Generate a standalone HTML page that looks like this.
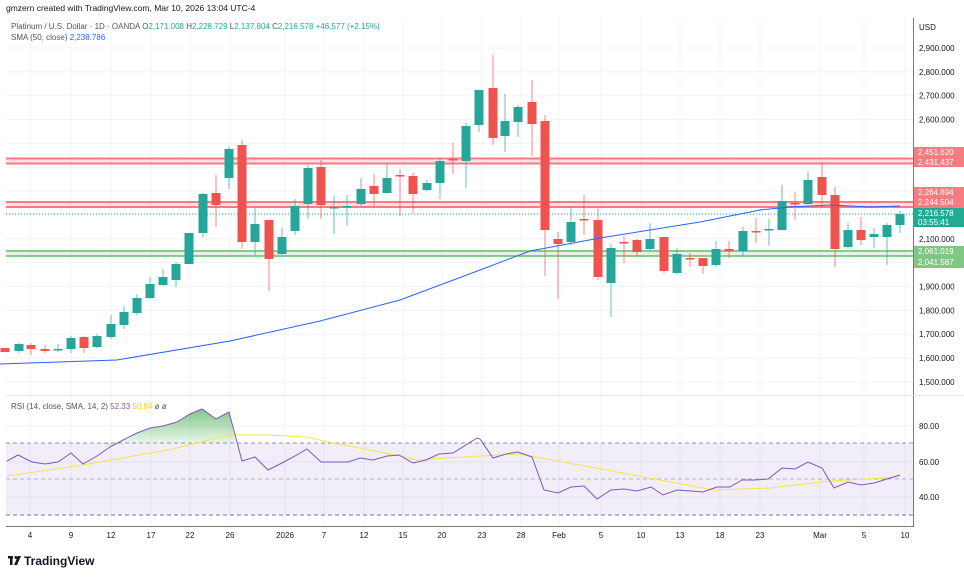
<!DOCTYPE html>
<html><head><meta charset="utf-8">
<style>
body{margin:0;background:#fff;font-family:"Liberation Sans",sans-serif;}
svg text{font-family:"Liberation Sans",sans-serif;}
</style></head><body>
<svg id="s" width="964" height="582" xmlns="http://www.w3.org/2000/svg">
<rect width="964" height="582" fill="#fff"/>
<g id="grid"></g>
<rect x="6" y="443" width="907" height="72" fill="#7e57c2" fill-opacity="0.1"/>
<line x1="6" x2="913" y1="443" y2="443" stroke="#9598a1" stroke-dasharray="4,3" stroke-width="1"/>
<line x1="6" x2="913" y1="479" y2="479" stroke="#9598a1" stroke-dasharray="4,3" stroke-width="1" stroke-opacity="0.7"/>
<line x1="6" x2="913" y1="515" y2="515" stroke="#787b86" stroke-dasharray="4,3" stroke-width="1"/>
<rect x="6" y="158" width="907" height="5" fill="#f23645" fill-opacity="0.15"/>
<line x1="6" x2="913" y1="158.5" y2="158.5" stroke="#f77c80" stroke-width="2"/>
<line x1="6" x2="913" y1="163.5" y2="163.5" stroke="#f77c80" stroke-width="2"/>
<rect x="6" y="202" width="907" height="5" fill="#f23645" fill-opacity="0.15"/>
<line x1="6" x2="913" y1="202" y2="202" stroke="#f77c80" stroke-width="2"/>
<line x1="6" x2="913" y1="207" y2="207" stroke="#f77c80" stroke-width="2"/>
<rect x="6" y="251" width="907" height="5" fill="#4caf50" fill-opacity="0.15"/>
<line x1="6" x2="913" y1="251" y2="251" stroke="#66bb6a" stroke-width="1.5"/>
<line x1="6" x2="913" y1="256" y2="256" stroke="#66bb6a" stroke-width="1.5"/>
<line x1="6" x2="913" y1="214" y2="214" stroke="#22ab94" stroke-dasharray="1,2" stroke-width="1"/>
<g id="candles"></g>
<polyline fill="none" stroke="#2962ff" stroke-width="1" points="0,364 117,360 230,341 320,321 400,300 480,270 530,251 600,238 700,222 760,210 790,207 830,205 870,207 900,206"/>
<g id="rsi"></g>
<line x1="913.5" x2="913.5" y1="18" y2="527" stroke="#787b86" stroke-width="1"/>
<line x1="6" x2="913" y1="526.5" y2="526.5" stroke="#787b86" stroke-width="1"/>
<line x1="6" x2="964" y1="395.5" y2="395.5" stroke="#e0e3eb" stroke-width="1"/>
<g id="ylab" font-size="8" fill="#131722"></g>
<g id="xlab" font-size="8" fill="#131722" text-anchor="middle"></g>
<text x="919" y="30" font-size="8" fill="#131722">USD</text>
<g id="flags" font-size="8" fill="#fff"></g>
<text x="6" y="11" font-size="8.5" fill="#131722">gmzern created with TradingView.com, Mar 10, 2026 13:04 UTC-4</text>
<text x="11" y="29" font-size="8" fill="#555"><tspan>Platinum / U.S. Dollar · 1D · OANDA </tspan><tspan fill="#555">O</tspan><tspan fill="#22ab94">2,171.008 </tspan><tspan fill="#555"> H</tspan><tspan fill="#22ab94">2,228.729 </tspan><tspan fill="#555"> L</tspan><tspan fill="#22ab94">2,137.804 </tspan><tspan fill="#555"> C</tspan><tspan fill="#22ab94">2,216.578  +46.577 (+2.15%)</tspan></text>
<text x="11" y="40" font-size="8" fill="#555">SMA (50, close) <tspan fill="#2962ff">2,238.786</tspan></text>
<text x="11" y="409" font-size="8" fill="#555">RSI (14, close, SMA, 14, 2) <tspan fill="#7e57c2">52.33</tspan> <tspan fill="#f5d300">50.84</tspan> ø ø</text>
<g transform="translate(8,556)">
<rect x="0" y="0" width="5" height="2.5" fill="#131722"/><rect x="2" y="0" width="2.5" height="9" fill="#131722"/>
<circle cx="8" cy="1.5" r="1.5" fill="#131722"/><polygon points="10,0 13,0 9,9 6,9" fill="#131722"/>
<text x="16" y="9" font-size="12" font-weight="bold" fill="#131722">TradingView</text>
</g>
</svg>
<script>
var NS="http://www.w3.org/2000/svg";
function el(p,t,a,txt){var e=document.createElementNS(NS,t);for(var k in a)e.setAttribute(k,a[k]);if(txt)e.textContent=txt;document.getElementById(p).appendChild(e);return e;}
var xs=[30,71,111,151,190,230,285,324,364,403,442,482,521,559,601,641,680,720,760,820,864,905];
var xl=["4","9","12","17","22","26","2026","7","12","15","20","23","28","Feb","5","10","13","18","23","Mar","5","10"];
xs.forEach(function(x,i){el("grid","line",{x1:x,x2:x,y1:18,y2:526,stroke:"#f0f3fa","stroke-width":1});el("xlab","text",{x:x,y:538},xl[i]);});
function py(p){return 48+(2900-p)*0.2385;}
for(var p=1500;p<=2900;p+=100){var y=py(p);el("grid","line",{x1:6,x2:913,y1:y,y2:y,stroke:"#f0f3fa","stroke-width":1});
 if(p!=2500&&p!=2400&&p!=2300&&p!=2200&&p!=2000)el("ylab","text",{x:919,y:y+3},(p/1000|0)+","+String(p%1000).padStart(3,"0")+".000");}
[[426,"80.00"],[462,"60.00"],[497,"40.00"]].forEach(function(a){el("grid","line",{x1:6,x2:913,y1:a[0],y2:a[0],stroke:"#f0f3fa"});el("ylab","text",{x:919,y:a[0]+3},a[1]);});
var C=[[5,0,348,352,348,352],[19,1,344,351,343,353],[31,0,345,349,343,355],[45,0,349,351,345,353],[58,1,349,350,344,352],[71,1,338,349,336,353],[84,0,337,348,336,353],[97,1,336,347,334,348],[111,1,324,337,315,339],[124,1,312,325,306,329],[137,1,298,313,294,315],[150,1,284,298,277,299],[163,1,277,285,269,286],[176,1,264,280,262,287],[189,1,233,264,233,264],[203,1,194,233,193,237],[216,0,193,205,175,227],[229,1,149,178,147,189],[242,0,145,242,140,249],[255,1,224,242,208,255],[269,0,220,259,220,291],[282,1,237,254,228,255],[295,1,206,231,199,235],[308,1,168,204,165,219],[321,0,167,205,160,219],[334,1,207,207,196,234],[347,1,206,206,195,226],[361,1,189,204,178,206],[374,0,186,194,174,206],[387,1,178,193,164,193],[400,0,175,175,169,216],[413,0,176,194,173,213],[427,1,183,190,180,191],[440,1,161,183,158,199],[453,0,159,159,143,174],[466,1,126,161,123,188],[479,1,90,125,90,132],[493,0,88,138,55,145],[505,1,121,136,94,152],[518,1,107,122,105,137],[532,0,102,124,80,156],[545,0,121,230,115,276],[558,0,239,244,232,299],[571,1,222,242,206,245],[584,0,219,219,195,235],[598,0,220,277,207,280],[611,1,248,283,244,317],[624,0,242,242,236,263],[637,0,240,252,239,256],[650,1,239,249,223,251],[664,0,237,271,237,273],[677,1,254,273,248,275],[690,0,258,258,253,267],[703,0,258,266,258,274],[716,1,249,265,241,267],[729,0,249,251,241,258],[743,1,231,251,227,256],[756,0,231,231,218,243],[769,1,229,229,219,246],[782,1,201,230,185,230],[795,0,203,203,192,220],[808,1,180,204,171,205],[822,0,177,195,163,207],[835,0,195,249,187,267],[848,1,230,247,223,249],[861,0,230,240,217,245],[874,1,234,237,228,248],[887,1,225,237,223,265],[900,1,214,225,211,233]];
C.forEach(function(c){var col=c[1]?"#26a69a":"#ef5350";
 el("candles","line",{x1:c[0],x2:c[0],y1:c[4],y2:c[5],stroke:col,"stroke-width":1,"stroke-opacity":0.7});
 el("candles","rect",{x:c[0]-4.5,y:c[2],width:9,height:Math.max(1.5,c[3]-c[2]),fill:col});});
var R="7,461 18,455 32,462 45,464 58,462 71,453 83,464 97,456 110,447 123,440 137,433 150,428 163,426 177,422 190,414 202,409 216,419 229,412 242,461 255,457 268,470 282,463 295,456 307,449 321,462 334,462 348,462 360,458 373,460 387,456 399,455 413,463 426,460 439,454 453,453 466,445 477,438 480,439 493,458 506,454 518,452 532,457 544,490 558,493 571,487 584,486 597,499 611,490 624,489 637,491 651,487 663,495 677,490 691,491 703,492 717,487 730,487 742,480 755,480 768,479 782,468 795,469 808,462 822,468 834,488 848,482 861,485 874,483 887,479 900,475";
var defs=el("rsi","defs",{});var lg=document.createElementNS(NS,"linearGradient");lg.setAttribute("id","gg");lg.setAttribute("x1","0");lg.setAttribute("x2","0");lg.setAttribute("y1","0");lg.setAttribute("y2","1");
lg.innerHTML='<stop offset="0" stop-color="#4caf50" stop-opacity="0.7"/><stop offset="1" stop-color="#4caf50" stop-opacity="0.05"/>';defs.appendChild(lg);
el("rsi","polygon",{points:"101,443 110,447 123,440 137,433 150,428 163,426 177,422 190,414 202,409 216,419 229,412 236,443",fill:"url(#gg)"});
el("rsi","polyline",{points:"7,476 83,465 173,449 230,435 267,435 307,437 333,443 400,456 417,460 480,456 520,454 660,480 713,490 770,488 830,481 900,477",fill:"none",stroke:"#f7e34a","stroke-width":1});
el("rsi","polyline",{points:R,fill:"none",stroke:"#7e57c2","stroke-width":1});
[[147,10,"#f77c80","2,451.620"],[157,10,"#f77c80","2,431.437"],[187,10,"#f77c80","2,264.894"],[197,11,"#f77c80","2,244.504"],[208,19,"#22ab94","2,216.578"],[246,11,"#81c784","2,061.019"],[257,11,"#81c784","2,041.587"]].forEach(function(f){
 el("flags","rect",{x:914,y:f[0],width:50,height:f[1],fill:f[2]});el("flags","text",{x:918,y:f[0]+8},f[3]);});
el("flags","text",{x:918,y:225},"03:55:41");
</script>
</body></html>
